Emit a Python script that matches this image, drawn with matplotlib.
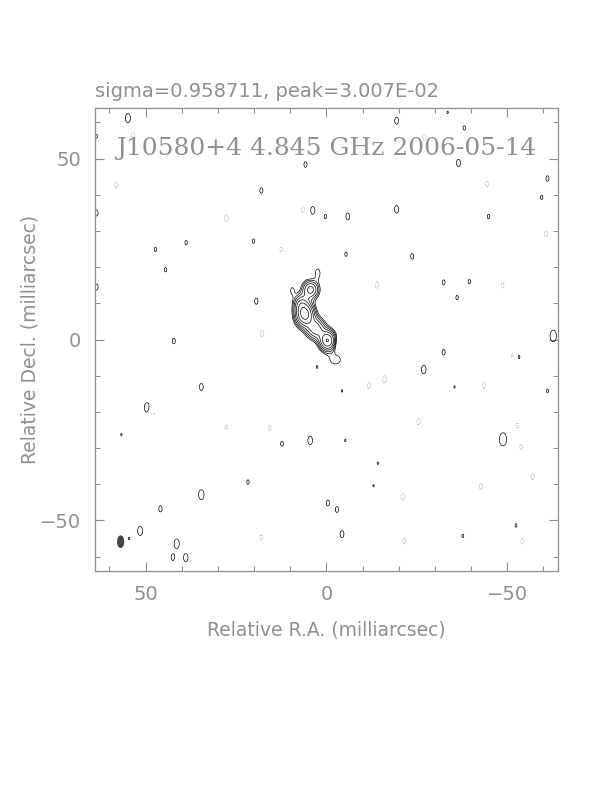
import numpy as np
import matplotlib
matplotlib.use("Agg")
import matplotlib.pyplot as plt
from matplotlib.patches import Ellipse
from matplotlib.ticker import MultipleLocator

# map header values
sigma = 0.958711          # mJy/beam
peak = 3.007e-02          # Jy/beam
source = "J10580+4"
freq = "4.845 GHz"
date = "2006-05-14"

# restoring beam (mas): fwhm in RA, fwhm in Dec, plotted centre
beam_fwhm = (1.8, 3.3)
beam_pos = (56.9, -55.9)

# source components: x (mas), y (mas), peak (mJy), fwhm_x, fwhm_y
comp_x = [4.4, 6.0, 3.0, -0.3, -2.5, 7.2]
comp_y = [13.8, 7.0, 3.0, -0.3, -5.6, 10.0]
comp_amp = [13.0, 27.0, 14.0, 23.0, 3.8, 8.0]
comp_fx = [3.6, 3.8, 4.0, 3.4, 4.2, 3.0]
comp_fy = [4.0, 5.0, 4.5, 4.2, 3.6, 4.0]

# positive noise peaks: x, y (mas), height in sigma, size factor
pos_x = [54.9, -19.4, -38.1, 63.6, 5.8, -36.5, -61.1, 18.0, -59.5, 63.6, 3.8, 0.3,
         -5.9, -19.4, -44.8, 38.8, 20.2, 47.3, -5.4, -23.7, 44.5, 2.4, 63.6, -32.4,
         -39.5, -36.1, 19.4, 9.5, 42.2, -62.7, -32.4, -53.1, -26.9, 2.6, 34.6, -35.4,
         -61.1, -4.3, 49.6, 56.7, 12.3, 4.5, -5.2, -48.8, -14.2, 21.7, -13.0,
         34.6, 45.9, -0.4, -2.9, 51.5, -4.3, -52.4, -37.7, 41.4, 42.5, 38.9, 54.6, -33.5]
pos_y = [61.2, 60.5, 58.5, 56.2, 48.4, 48.8, 44.5, 41.2, 39.3, 35.0, 35.7, 34.0,
         34.0, 36.0, 34.0, 26.8, 27.2, 24.9, 23.6, 23.0, 19.3, 18.4, 14.5, 15.8,
         16.0, 11.6, 10.6, 13.6, -0.4, 1.0, -3.5, -4.8, -8.3, -7.6, -13.1, -13.1,
         -14.2, -14.2, -18.8, -26.3, -28.8, -27.9, -27.9, -27.6, -34.2, -39.4, -40.4,
         -42.9, -46.8, -45.2, -47.0, -52.9, -53.8, -51.4, -54.3, -56.4, -60.3, -60.3, -55.0, 62.8]
pos_h = [4.0, 3.8, 3.3, 3.2, 3.5, 3.9, 3.5, 3.5, 3.3, 3.6, 4.0, 3.3,
         3.8, 4.0, 3.3, 3.3, 3.3, 3.3, 3.3, 3.5, 3.3, 4.0, 3.6, 3.4,
         3.3, 3.3, 3.6, 3.3, 3.5, 4.0, 3.5, 3.5, 4.0, 3.1, 3.8, 3.1,
         3.2, 3.1, 4.0, 3.1, 3.4, 4.0, 3.1, 4.0, 3.1, 3.3, 3.1,
         4.0, 3.6, 3.7, 3.7, 4.0, 3.8, 3.2, 3.2, 4.0, 3.6, 3.9, 3.1, 3.1]
pos_s = [1.2, 1.0, 1.0, 1.0, 1.0, 1.0, 1.0, 1.0, 1.0, 1.0, 1.0, 1.0,
         1.0, 1.0, 1.0, 1.0, 1.0, 1.0, 1.0, 1.0, 1.0, 1.0, 1.0, 1.0,
         1.0, 1.0, 1.0, 1.0, 1.0, 1.5, 1.0, 1.0, 1.1, 1.0, 1.0, 1.0,
         1.0, 1.0, 1.3, 1.0, 1.0, 1.1, 1.0, 1.7, 1.0, 1.0, 1.0,
         1.3, 1.0, 0.9, 0.9, 1.2, 1.0, 1.0, 1.0, 1.2, 0.9, 1.1, 1.0, 1.0]

# negative noise peaks: x, y (mas), depth in sigma
neg_x = [53.5, -27.1, 58.1, -44.4, 27.7, 6.5, -60.7, 12.5, -13.9, -48.7, 17.8, -3.1,
         -51.5, -16.0, -11.7, -43.6, 47.8, -25.5, 27.7, 15.7, -52.8, -53.8, -57.0,
         -42.7, -21.1, -54.2, 18.0, -21.5]
neg_y = [56.4, 55.9, 42.7, 43.0, 33.6, 35.9, 29.2, 24.9, 15.1, 14.9, 1.7, -1.0,
         -4.4, -11.0, -12.7, -12.7, -20.3, -22.7, -24.2, -24.5, -23.8, -29.7, -37.9,
         -40.6, -43.4, -55.7, -54.7, -55.7]
neg_h = [3.6, 3.7, 3.5, 3.5, 3.8, 3.6, 3.5, 3.3, 3.7, 3.4, 3.6, 3.4,
         3.5, 3.8, 3.6, 3.5, 3.5, 3.6, 3.3, 3.3, 3.4, 3.4, 3.6,
         3.6, 3.7, 3.5, 3.4, 3.5]

gray = "#8f8f8f"

# map grid
xs = np.arange(64.0, -64.01, -0.15)
ys = np.arange(-64.0, 64.01, 0.15)
X, Y = np.meshgrid(xs, ys)


def gauss(x0, y0, amp, fx, fy):
    sx = fx / 2.3548
    sy = fy / 2.3548
    return amp * np.exp(-0.5 * (((X - x0) / sx) ** 2 + ((Y - y0) / sy) ** 2))


img = np.zeros_like(X)
for i in range(len(comp_x)):
    img += gauss(comp_x[i], comp_y[i], comp_amp[i], comp_fx[i], comp_fy[i])
for i in range(len(pos_x)):
    img += gauss(pos_x[i], pos_y[i], pos_h[i] * sigma,
                 beam_fwhm[0] * pos_s[i], beam_fwhm[1] * pos_s[i])
for i in range(len(neg_x)):
    img -= gauss(neg_x[i], neg_y[i], neg_h[i] * sigma, beam_fwhm[0], beam_fwhm[1])

lowest = 3 * sigma
levels = [lowest * 2 ** (n / 2) for n in range(7)]

fig = plt.figure(figsize=(6.12, 7.92), dpi=100)
ax = fig.add_axes([0.1552, 0.279, 0.7565, 0.5846])

ax.contour(X, Y, img, levels=levels, colors="black", linewidths=0.5)
ax.contour(X, Y, img, levels=[-lowest], colors=gray, linewidths=0.6,
           linestyles=[(0, (1, 1.5))])

ax.add_patch(Ellipse(beam_pos, beam_fwhm[0], beam_fwhm[1], facecolor="#444444",
                     edgecolor="#444444", lw=0.5))

ax.set_xlim(64, -64)
ax.set_ylim(-64, 64)
ax.xaxis.set_major_locator(MultipleLocator(50))
ax.yaxis.set_major_locator(MultipleLocator(50))
ax.xaxis.set_minor_locator(MultipleLocator(10))
ax.yaxis.set_minor_locator(MultipleLocator(10))
ax.tick_params(which="both", direction="in", top=True, right=True, colors=gray,
               labelsize=14, labelcolor=gray)
ax.tick_params(which="major", length=6.5, width=0.8, pad=10)
ax.tick_params(which="minor", length=3.6, width=0.8)
for sp in ax.spines.values():
    sp.set_color(gray)
    sp.set_linewidth(0.9)

ax.set_xlabel("Relative R.A. (milliarcsec)", fontsize=13.5, color=gray, labelpad=12)
ax.set_ylabel("Relative Decl. (milliarcsec)", fontsize=13.5, color=gray, labelpad=0)
ax.set_title("sigma=%.6f, peak=%.3E" % (sigma, peak), loc="left", fontsize=14,
             color=gray, pad=8)
ax.text(0.5, 0.913, "%s %s %s" % (source, freq, date), transform=ax.transAxes,
        ha="center", va="center", fontsize=18, family="DejaVu Serif", color=gray)

fig.savefig("out.png", dpi=100)
